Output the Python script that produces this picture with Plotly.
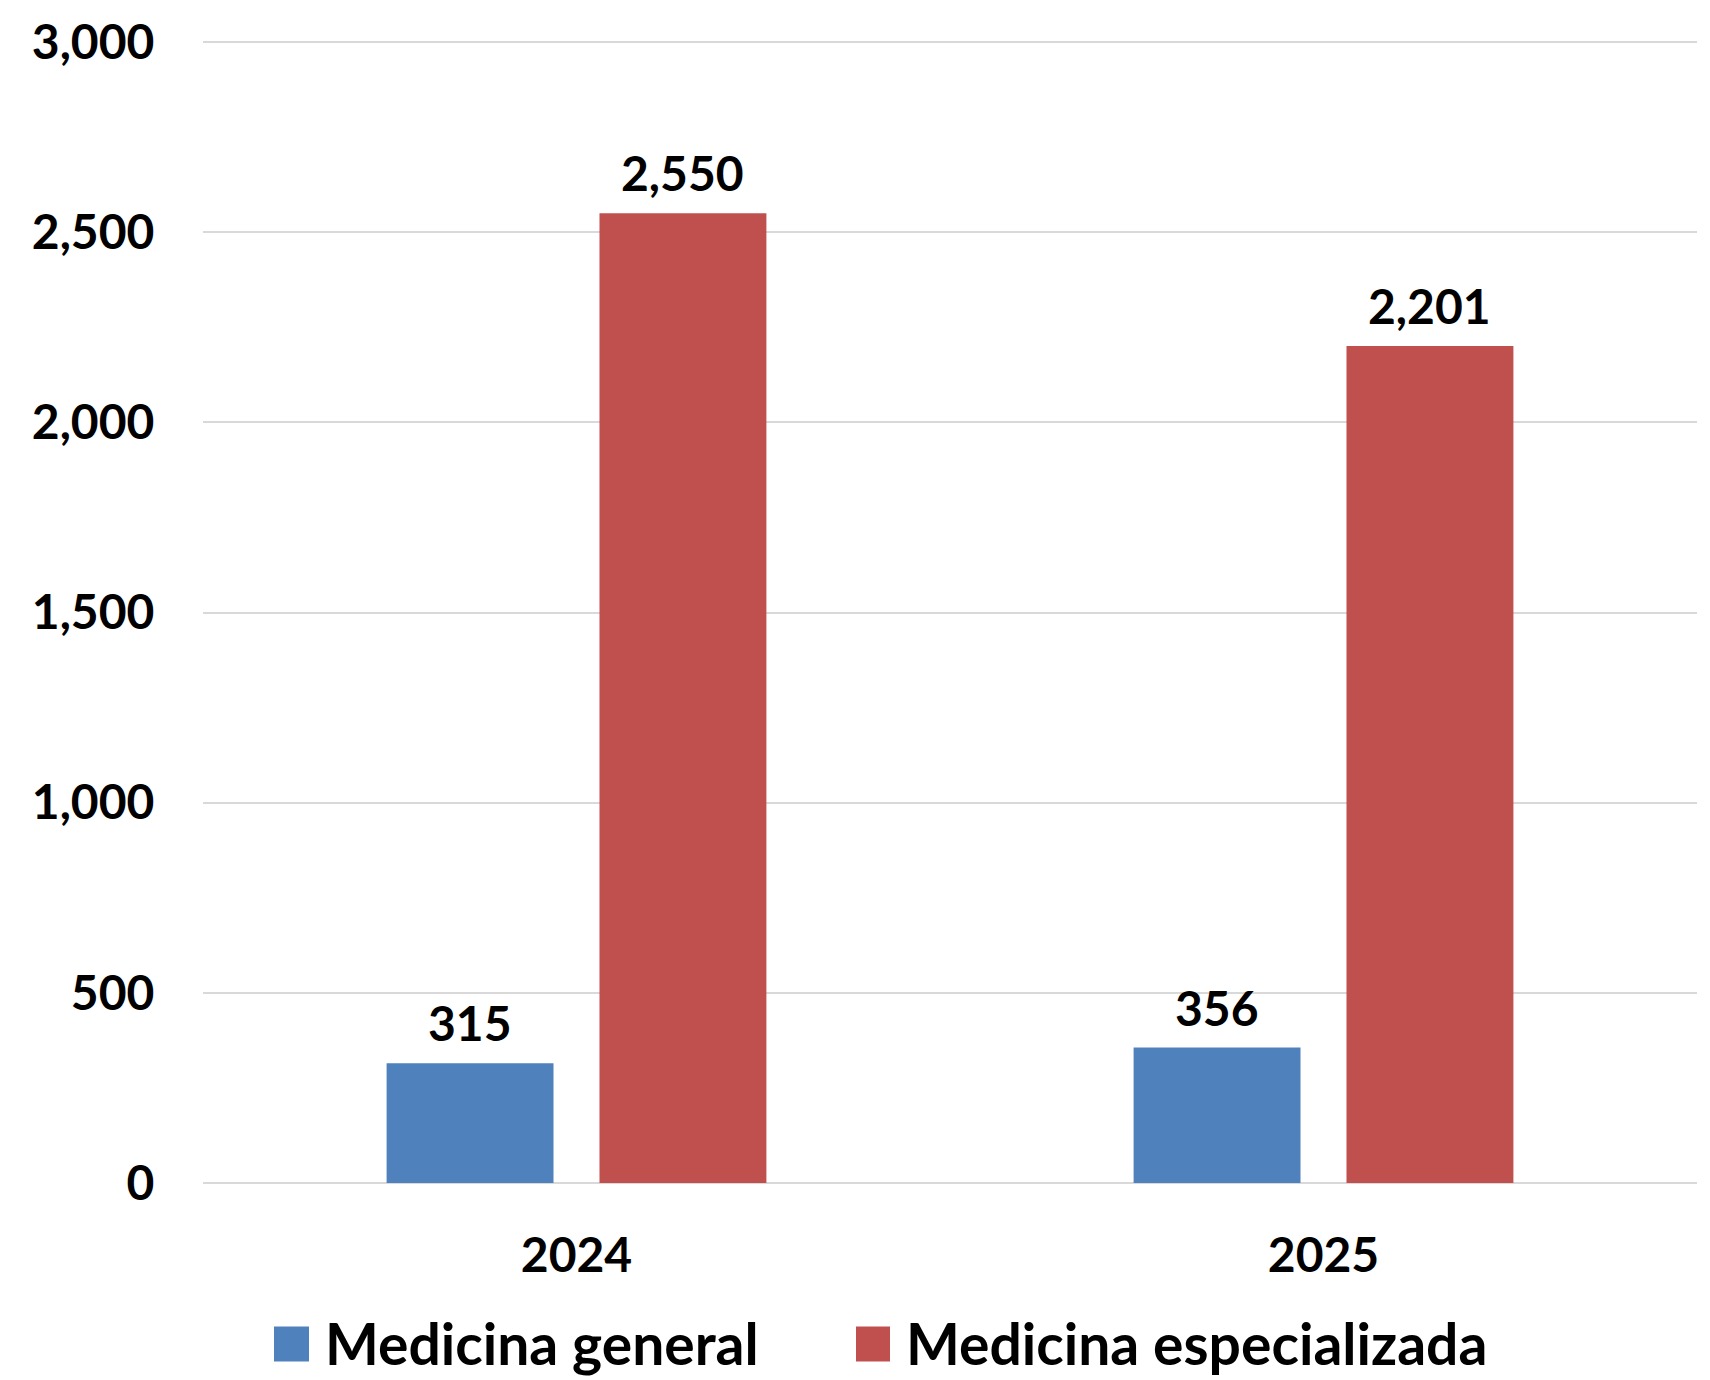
import plotly.graph_objects as go

categories = ["2024", "2025"]
series_names = ["Medicina general", "Medicina especializada"]
general = [315, 356]
especializada = [2550, 2201]
y_ticks = [0, 500, 1000, 1500, 2000, 2500, 3000]
y_tick_labels = ["0", "500", "1,000", "1,500", "2,000", "2,500", "3,000"]

colors = ["#4F81BD", "#C0504D"]
FONT = "Lato"
W, H = 1710, 1380
ML, MR, MT, MB = 203, 13, 36, 197
BARGAP = 0.43
YMAX = 3000 * (H - MT - MB) / (H - 38 - MB)

fig = go.Figure()
for name, vals, col in zip(series_names, [general, especializada], colors):
    fig.add_trace(go.Bar(
        x=categories, y=vals, name=name, marker_color=col,
        marker_line_width=0, showlegend=False,
    ))

fig.update_layout(
    width=W, height=H,
    margin=dict(l=ML, r=MR, t=MT, b=MB),
    paper_bgcolor="white", plot_bgcolor="white",
    barmode="group", bargap=BARGAP, bargroupgap=0.216,
    font=dict(family=FONT, size=48, color="black", weight="bold"),
    showlegend=False,
)
fig.update_xaxes(
    type="category", range=[-0.5, len(categories) - 0.5],
    showgrid=False, showline=False, ticks="outside", ticklen=0,
    tickfont=dict(family=FONT, size=48, color="black", weight="bold"),
    ticklabelstandoff=30,
)
fig.update_yaxes(
    range=[0, YMAX], tickvals=y_ticks, ticktext=y_tick_labels,
    showgrid=True, gridcolor="#D9D9D9", gridwidth=2,
    zeroline=True, zerolinecolor="#D9D9D9", zerolinewidth=2,
    showline=False, ticks="outside", ticklen=0,
    tickfont=dict(family=FONT, size=48, color="black", weight="bold"),
    ticklabelstandoff=38,
)

pw, ph = W - ML - MR, H - MT - MB

# data labels above bars
slot = pw / len(categories) * (1 - BARGAP) / len(series_names)
for si, vals in enumerate([general, especializada]):
    off = (si - (len(series_names) - 1) / 2) * slot
    for ci, v in enumerate(vals):
        fig.add_annotation(x=ci, y=v, xshift=off, yshift=10,
                           xanchor="center", yanchor="bottom", showarrow=False,
                           text=f"{v:,}",
                           font=dict(family=FONT, size=48, color="black", weight="bold"))

# manual legend (pixel positions converted to paper coords)
def px(x):
    return (x - ML) / pw
def py(y):
    return (H - MB - y) / ph

legend_items = [(274, 309, 323), (856, 890, 904)]
for (x0, x1, tx), name, col in zip(legend_items, series_names, colors):
    fig.add_shape(type="rect", xref="paper", yref="paper",
                  x0=px(x0), x1=px(x1), y0=py(1362), y1=py(1327),
                  fillcolor=col, line_width=0)
    fig.add_annotation(xref="paper", yref="paper", x=px(tx), y=py(1344),
                       xanchor="left", yanchor="middle", showarrow=False,
                       text=name,
                       font=dict(family=FONT, size=57, color="black", weight="bold"))

fig.write_html("out.html", config={"displayModeBar": False},
               post_script="document.body.style.margin='0';")
